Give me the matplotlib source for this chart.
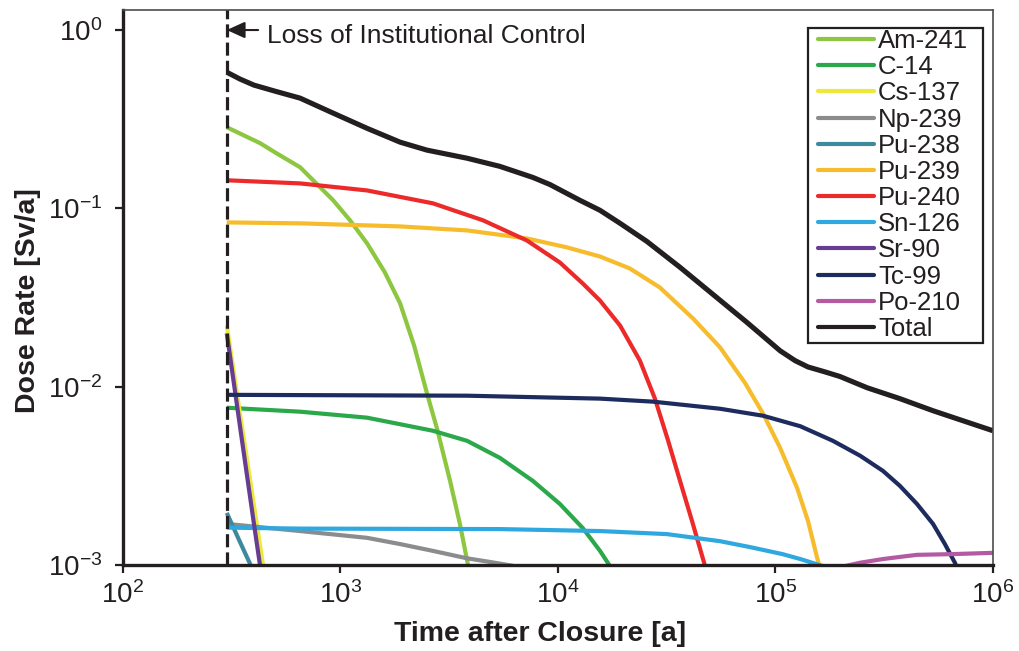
import math
import matplotlib
matplotlib.use('Agg')
import matplotlib.pyplot as plt
from matplotlib.ticker import FixedLocator, NullLocator, FuncFormatter
from matplotlib.patches import Rectangle
from matplotlib.transforms import IdentityTransform

plt.rcParams['font.family'] = ['Liberation Sans', 'DejaVu Sans']
plt.rcParams['mathtext.fontset'] = 'custom'
plt.rcParams['mathtext.rm'] = 'Liberation Sans'
plt.rcParams['mathtext.it'] = 'Liberation Sans:italic'
plt.rcParams['mathtext.bf'] = 'Liberation Sans:bold'
plt.rcParams['mathtext.default'] = 'regular'

# ---------------- data (time after closure [a], dose rate [Sv/a]) ----------------
am241_t = [300, 427, 500, 652, 925, 1106, 1325, 1600, 1880, 2180, 2500, 2780, 3190, 3540, 3850, 4030]
am241_d = [0.285, 0.232, 0.206, 0.170, 0.111, 0.0857, 0.0636, 0.0437, 0.0293, 0.017, 0.00914, 0.0058,
           0.00296, 0.0017, 0.00101, 0.00076]

c14_t = [300, 652, 1325, 2660, 3820, 5400, 7670, 10200, 13000, 15600, 17300, 18300]
c14_d = [0.00762, 0.00724, 0.0067, 0.00566, 0.00497, 0.00399, 0.00296, 0.0022, 0.00161, 0.0012, 0.00099, 0.00087]

cs137_t = [300, 350, 400, 450]
cs137_d = [0.022, 0.0063, 0.00216, 0.00084]

np239_t = [300, 652, 1325, 1880, 2660, 3820, 4870, 6200, 7050]
np239_d = [0.0017, 0.00155, 0.00142, 0.00131, 0.0012, 0.00109, 0.00104, 0.00099, 0.00095]

pu238_t = [300, 340, 400]
pu238_d = [0.00196, 0.0014, 0.00091]

pu239_t = [300, 652, 1880, 3820, 7200, 11000, 15600, 21400, 29400, 41800, 55600, 72400, 87700,
           105000, 125600, 141000, 155000, 169000]
pu239_d = [0.0834, 0.0824, 0.0792, 0.0752, 0.0678, 0.0604, 0.0537, 0.046, 0.036, 0.0241, 0.0166, 0.0105,
           0.00705, 0.00454, 0.00271, 0.00177, 0.00111, 0.00076]

pu240_t = [300, 652, 1325, 2660, 4520, 7200, 10200, 13000, 15600, 19300, 23800, 27900, 32100, 36400,
           41300, 47400, 52700]
pu240_d = [0.1437, 0.138, 0.126, 0.1067, 0.0857, 0.066, 0.0497, 0.0379, 0.0304, 0.022, 0.014, 0.00857,
           0.00497, 0.00296, 0.00177, 0.00099, 0.00063]

sn126_t = [300, 652, 5400, 15600, 31700, 55600, 76400, 108000, 130000, 155000, 178000, 198000]
sn126_d = [0.00162, 0.0016, 0.00159, 0.00155, 0.00149, 0.00136, 0.00126, 0.00115, 0.00108, 0.00101,
           0.00096, 0.00091]

sr90_t = [300, 350, 400, 440]
sr90_d = [0.0199, 0.0053, 0.0017, 0.00077]

tc99_t = [300, 3820, 15600, 27400, 55600, 87700, 130000, 183600, 245000, 312000, 373000, 447000,
          530000, 601000, 668000, 720000]
tc99_d = [0.0090, 0.0089, 0.00857, 0.00824, 0.00752, 0.00687, 0.0060, 0.00497, 0.0041, 0.00337, 0.00278,
          0.0022, 0.0017, 0.00131, 0.00103, 0.00083]

po210_t = [188000, 204000, 245000, 312000, 373000, 447000, 634000, 1000000]
po210_d = [0.00095, 0.00098, 0.00103, 0.00108, 0.00111, 0.00114, 0.00115, 0.00117]

total_t = [300, 345, 400, 500, 652, 925, 1325, 1880, 2500, 3820, 5400, 7670, 9180, 12600, 15600, 19300,
           25600, 36400, 51600, 74000, 105000, 123000, 141000, 169000, 198000, 264000, 373000, 530000,
           728000, 1000000]
total_d = [0.58, 0.531, 0.491, 0.454, 0.415, 0.342, 0.281, 0.235, 0.212, 0.191, 0.172, 0.149, 0.136, 0.111,
           0.0975, 0.0824, 0.0653, 0.0467, 0.0329, 0.0229, 0.0159, 0.014, 0.0129, 0.0121, 0.0114, 0.00986,
           0.00857, 0.00733, 0.00644, 0.00566]

names = ['Am-241', 'C-14', 'Cs-137', 'Np-239', 'Pu-238', 'Pu-239', 'Pu-240',
         'Sn-126', 'Sr-90', 'Tc-99', 'Po-210', 'Total']
times = [am241_t, c14_t, cs137_t, np239_t, pu238_t, pu239_t, pu240_t,
         sn126_t, sr90_t, tc99_t, po210_t, total_t]
doses = [am241_d, c14_d, cs137_d, np239_d, pu238_d, pu239_d, pu240_d,
         sn126_d, sr90_d, tc99_d, po210_d, total_d]
colors = ['#8dc63f', '#2aa84a', '#ede83a', '#8a8c8e', '#3d8a9e', '#f6bc2c', '#ed2a2a',
          '#2fa8df', '#663d93', '#1e2b5e', '#b35aa3', '#231f20']

loss_of_control_year = 300
x_ticks = [1e2, 1e3, 1e4, 1e5, 1e6]
y_ticks = [1e-3, 1e-2, 1e-1, 1e0]

# ---------------- figure ----------------
fig = plt.figure(figsize=(10.2, 6.51), dpi=100)
ax = fig.add_axes([123 / 1020, 1 - 565 / 651, 870 / 1020, 555 / 651])

for name, t, d, c in zip(names, times, doses, colors):
    lw = 3.7 if name == 'Total' else 3.0
    ax.plot(t, d, color=c, lw=lw, label=name, solid_capstyle='butt',
            solid_joinstyle='round', zorder=2)

ax.axvline(loss_of_control_year, color='#231f20', lw=2.3, ls=(0, (4.1, 1.6)), zorder=3)

ax.set_xscale('log')
ax.set_yscale('log')
ax.set_xlim(1e2, 1e6)
ax.set_ylim(1e-3, 1.295)

ax.xaxis.set_major_locator(FixedLocator(x_ticks))
ax.yaxis.set_major_locator(FixedLocator(y_ticks))
ax.xaxis.set_minor_locator(NullLocator())
ax.yaxis.set_minor_locator(NullLocator())
fmt = FuncFormatter(lambda v, p: r'$10^{%d}$' % round(math.log10(v)))
ax.xaxis.set_major_formatter(fmt)
ax.yaxis.set_major_formatter(fmt)

ax.tick_params(axis='both', which='major', direction='out', length=6, width=1.6,
               color='#231f20', labelsize=20, labelcolor='#231f20')
ax.tick_params(axis='x', pad=6)
ax.tick_params(axis='y', pad=9)
ax.tick_params(top=False, right=False)

for s in ['left', 'bottom']:
    ax.spines[s].set_linewidth(2.4)
    ax.spines[s].set_color('#231f20')
for s in ['top', 'right']:
    ax.spines[s].set_linewidth(1.2)
    ax.spines[s].set_color('#4d4d4d')

ax.set_xlabel('Time after Closure [a]', fontsize=20.5, fontweight='bold', color='#231f20')
ax.set_ylabel('Dose Rate [Sv/a]', fontsize=20.5, fontweight='bold', color='#231f20')
ax.xaxis.set_label_coords(0.479, -0.124)
ax.xaxis.label.set_verticalalignment('center')
ax.yaxis.set_label_coords(-0.109, 0.4766)
ax.yaxis.label.set_verticalalignment('center')

# annotation
ax.annotate('', xy=(loss_of_control_year, 1.0), xytext=(418, 1.0),
            arrowprops=dict(arrowstyle='-|>,head_length=0.55,head_width=0.25',
                            lw=1.5, color='#231f20', shrinkA=0, shrinkB=0,
                            mutation_scale=20), zorder=4)
ax.text(459, 0.845, 'Loss of Institutional Control', fontsize=19, va='baseline',
        ha='left', color='#231f20')

# legend
leg = ax.legend(loc='upper left', bbox_to_anchor=(0.7989, 0.9658), borderaxespad=0,
                frameon=False, fontsize=18.5, handlelength=2.18, handletextpad=0.16,
                borderpad=0, labelspacing=0.085, numpoints=1)
for txt in leg.get_texts():
    txt.set_color('#231f20')
for h in leg.get_lines():
    h.set_solid_capstyle('round')
    h.set_linewidth(3.0)

fig.canvas.draw()
ext = leg.get_window_extent(fig.canvas.get_renderer())
frame = Rectangle((ext.x0 - 10, ext.y0 - 2), ext.width + 25, ext.height + 3,
                  transform=IdentityTransform(), facecolor='none', edgecolor='#231f20',
                  lw=1.6, zorder=6)
fig.add_artist(frame)

fig.savefig('out.png', dpi=100)
